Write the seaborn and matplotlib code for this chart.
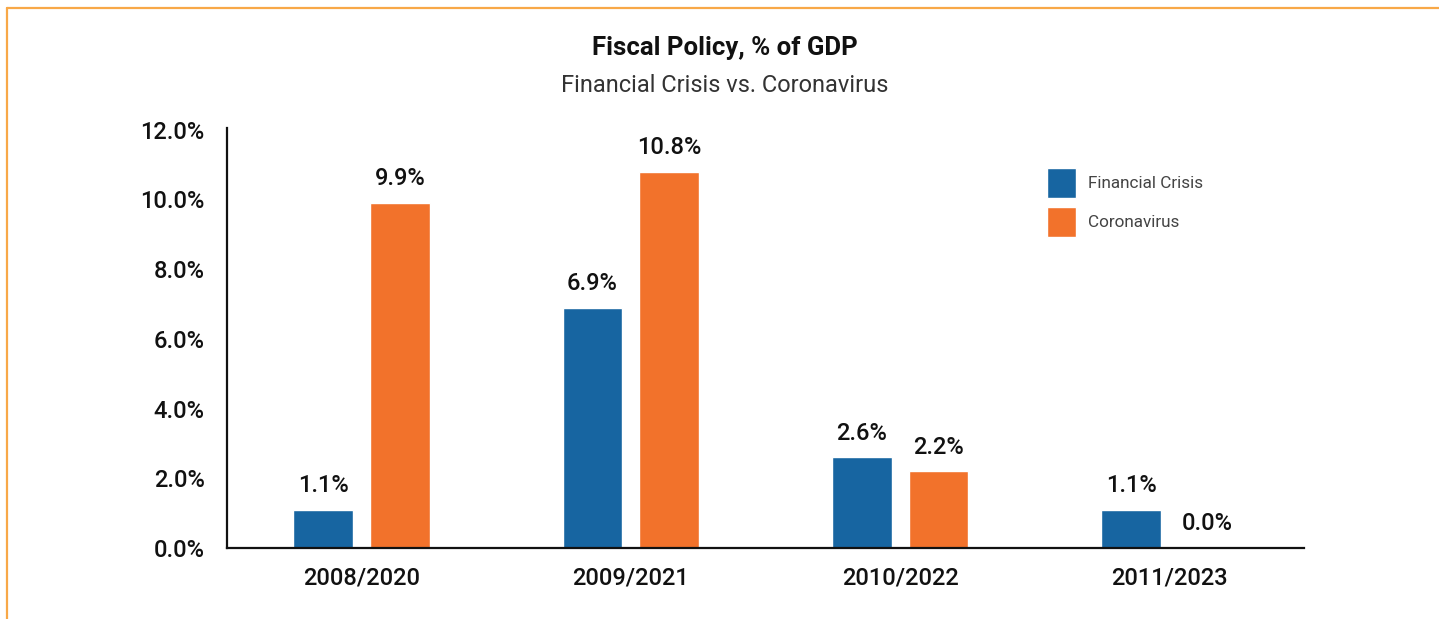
import matplotlib
matplotlib.use("Agg")
import matplotlib.pyplot as plt
import seaborn as sns
import pandas as pd
from matplotlib.lines import Line2D

categories = ["2008/2020", "2009/2021", "2010/2022", "2011/2023"]
financial_crisis = [1.1, 6.9, 2.6, 1.1]
coronavirus = [9.9, 10.8, 2.2, 0.0]
series_names = ["Financial Crisis", "Coronavirus"]
y_ticks = [0, 2, 4, 6, 8, 10, 12]

df = pd.DataFrame({
    "period": categories * 2,
    "value": financial_crisis + coronavirus,
    "series": [series_names[0]] * len(categories) + [series_names[1]] * len(categories),
})

sns.set_theme(style="white")
plt.rcParams["font.family"] = ["Roboto", "DejaVu Sans"]

fig = plt.figure(figsize=(14.39, 6.19), dpi=100)
ax = fig.add_axes([227 / 1439, (619 - 548) / 619, (1304 - 227) / 1439, (548 - 128) / 619])

palette = {"Financial Crisis": "#1765A1", "Coronavirus": "#F2722B"}
sns.barplot(data=df, x="period", y="value", hue="series", palette=palette,
            width=0.57, gap=0.22, ax=ax, saturation=1, order=categories,
            hue_order=series_names)

for cont in ax.containers:
    ax.bar_label(cont, fmt="%.1f%%", padding=9, fontsize=17, fontweight="medium",
                 color="#111111")

ax.set_xlim(-0.5, 3.5)
ax.set_ylim(0, 12.05)
ax.set_yticks(y_ticks)
ax.set_yticklabels([f"{v:.1f}%" for v in y_ticks])
ax.set_xlabel("")
ax.set_ylabel("")
ax.tick_params(axis="both", length=0, labelsize=17, colors="#111111")
for lbl in ax.get_xticklabels() + ax.get_yticklabels():
    lbl.set_fontweight("medium")
ax.tick_params(axis="y", pad=16)
ax.tick_params(axis="x", pad=13)
for s in ["top", "right"]:
    ax.spines[s].set_visible(False)
for s in ["left", "bottom"]:
    ax.spines[s].set_color("#111111")
    ax.spines[s].set_linewidth(1.6)

handles, labels = ax.get_legend_handles_labels()
ax.legend(handles, labels, loc="upper left",
          bbox_to_anchor=(1047 / 1439, (619 - 168) / 619),
          bbox_transform=fig.transFigure, frameon=False, borderpad=0,
          borderaxespad=0, fontsize=12.3, handlelength=1.72, handleheight=2.3,
          handletextpad=0.7, labelspacing=0.53, labelcolor="#444444")

fig.text(0.5035, (619 - 48) / 619, "Fiscal Policy, % of GDP", ha="center", va="center",
         fontsize=18.5, fontweight="bold", color="#111111")
fig.text(0.5035, (619 - 85) / 619, "Financial Crisis vs. Coronavirus", ha="center",
         va="center", fontsize=17, color="#333333")

# orange frame (top and left edges)
fig.add_artist(Line2D([7 / 1439, 1.0], [(619 - 8) / 619] * 2, color="#F8A847", lw=1.6,
                      transform=fig.transFigure))
fig.add_artist(Line2D([7 / 1439] * 2, [0, (619 - 8) / 619], color="#F8A847", lw=1.6,
                      transform=fig.transFigure))

fig.savefig("out.png", dpi=100, facecolor="white")
